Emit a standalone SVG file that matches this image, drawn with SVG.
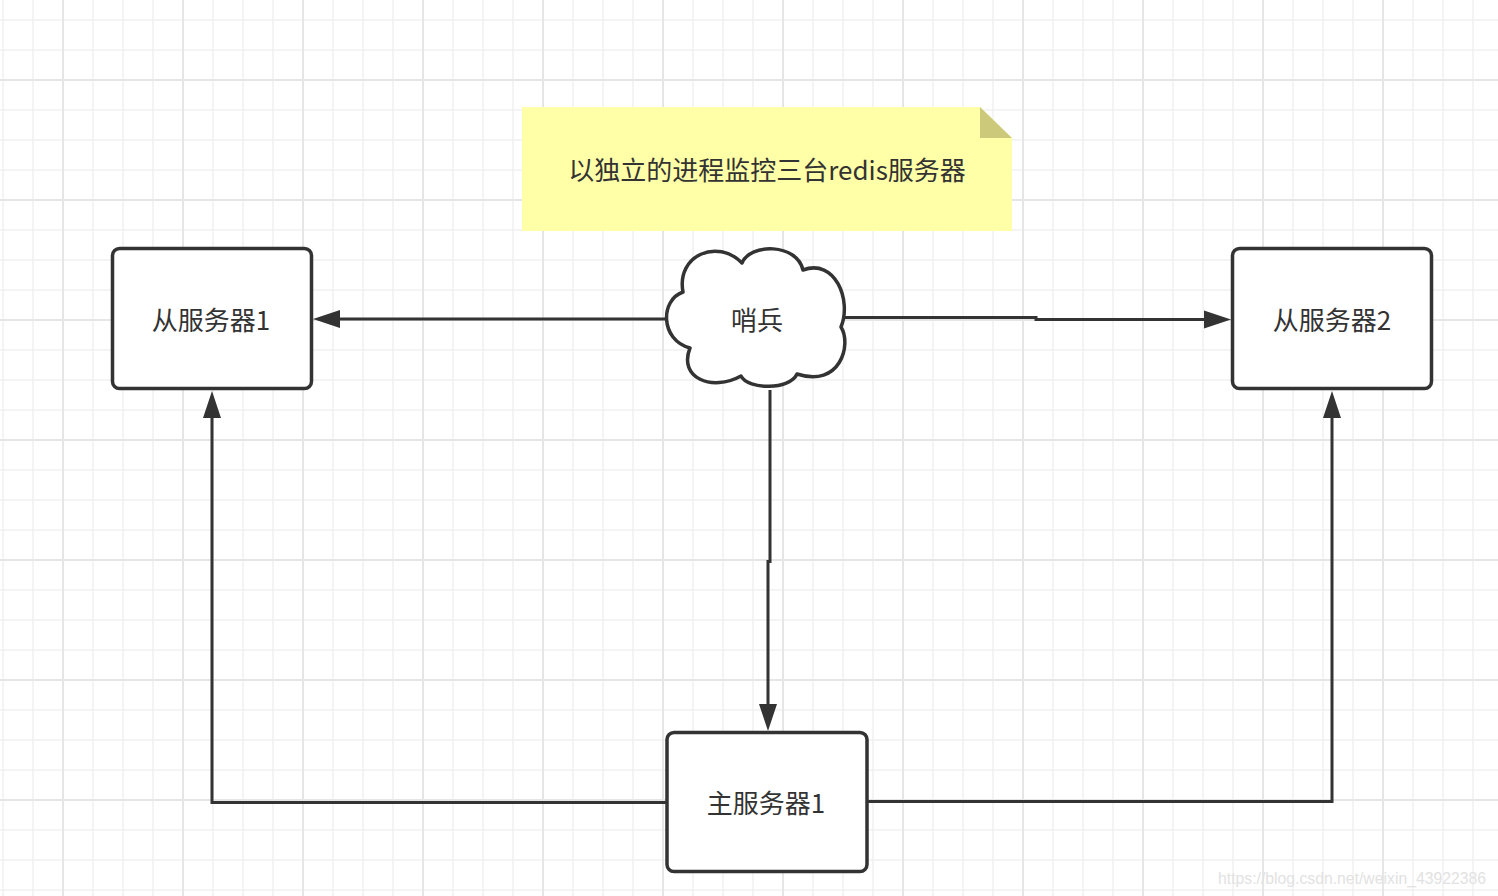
<svg xmlns="http://www.w3.org/2000/svg" width="1498" height="896" viewBox="0 0 1498 896">
<style>
.minor{stroke:#f1f1f1;stroke-width:1.5;fill:none}
.major{stroke:#e6e6e6;stroke-width:2;fill:none}
.box{fill:#ffffff;stroke:#333333;stroke-width:3.5}
.lbl{font-family:"Noto Sans CJK SC","Microsoft YaHei",sans-serif;font-size:26px;fill:#333333;text-anchor:middle;dominant-baseline:central}
.edge{fill:none;stroke:#333333;stroke-width:3}
</style>
<defs>
<marker id="arr" viewBox="0 -10 28 20" refX="0" refY="0" markerWidth="28" markerHeight="20" markerUnits="userSpaceOnUse" orient="auto">
<path d="M0,-9 L27,0 L0,9 Z" fill="#333333"/>
</marker>
</defs>
<rect x="0" y="0" width="1498" height="896" fill="#ffffff"/>
<g id="grid">
<path class="minor" d="M3,0V896M33,0V896M93,0V896M123,0V896M153,0V896M213,0V896M243,0V896M273,0V896M333,0V896M363,0V896M393,0V896M453,0V896M483,0V896M513,0V896M573,0V896M603,0V896M633,0V896M693,0V896M723,0V896M753,0V896M813,0V896M843,0V896M873,0V896M933,0V896M963,0V896M993,0V896M1053,0V896M1083,0V896M1113,0V896M1173,0V896M1203,0V896M1233,0V896M1293,0V896M1323,0V896M1353,0V896M1413,0V896M1443,0V896M1473,0V896M0,20H1498M0,50H1498M0,110H1498M0,140H1498M0,170H1498M0,230H1498M0,260H1498M0,290H1498M0,350H1498M0,380H1498M0,410H1498M0,470H1498M0,500H1498M0,530H1498M0,590H1498M0,620H1498M0,650H1498M0,710H1498M0,740H1498M0,770H1498M0,830H1498M0,860H1498M0,890H1498"/>
<path class="major" d="M63,0V896M183,0V896M303,0V896M423,0V896M543,0V896M663,0V896M783,0V896M903,0V896M1023,0V896M1143,0V896M1263,0V896M1383,0V896M0,80H1498M0,200H1498M0,320H1498M0,440H1498M0,560H1498M0,680H1498M0,800H1498"/>
</g>
<g id="connectors">
<path class="edge" d="M666,319H340" marker-end="url(#arr)"/>
<path class="edge" d="M845,317.5H1036V319.5H1204" marker-end="url(#arr)"/>
<path class="edge" d="M770,390V561.5H768V704" marker-end="url(#arr)"/>
<path class="edge" d="M667,802.5H212V418" marker-end="url(#arr)"/>
<path class="edge" d="M867,801.5H1332V418" marker-end="url(#arr)"/>
</g>
<g id="note">
<path d="M522,107H980L1012,138V231H522Z" fill="#ffffa8"/>
<path d="M980,107L1012,138H980Z" fill="#cdc97a"/>
<text class="lbl" x="767" y="168.5">以独立的进程监控三台redis服务器</text>
</g>
<g id="sentinel">
<path d="M683,292C676,255 718,238 742,263C750,243 797,243 803,270C835,258 852,300 841,327C852,345 840,388 797,374C790,390 748,390 741,376C712,392 678,378 690,348C660,340 660,300 683,292Z" fill="#ffffff" stroke="#333333" stroke-width="3.5" stroke-linejoin="round"/>
<text class="lbl" x="757" y="318">哨兵</text>
</g>
<g id="slave1">
<rect class="box" x="112.5" y="248.5" width="199" height="140" rx="7"/>
<text class="lbl" x="211" y="318">从服务器1</text>
</g>
<g id="slave2">
<rect class="box" x="1232.5" y="248.5" width="199" height="140" rx="7"/>
<text class="lbl" x="1332" y="318">从服务器2</text>
</g>
<g id="master">
<rect class="box" x="667" y="732.5" width="200" height="139" rx="7"/>
<text class="lbl" x="766" y="801">主服务器1</text>
</g>
<text x="1218" y="884" font-family="Liberation Sans, Arial, sans-serif" font-size="16" fill="#e2e2e2" textLength="268" lengthAdjust="spacingAndGlyphs">https://blog.csdn.net/weixin_43922386</text>
</svg>
